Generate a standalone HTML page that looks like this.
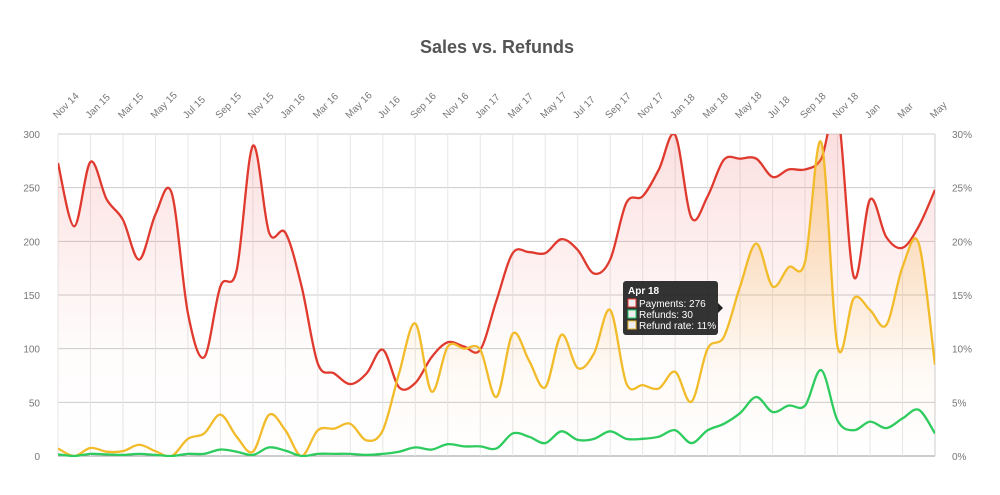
<!DOCTYPE html>
<html><head><meta charset="utf-8"><style>
body{margin:0;background:#fff;width:1000px;height:490px;overflow:hidden;font-family:"Liberation Sans",sans-serif}
</style></head><body>
<svg id="chart" width="1000" height="490">
<defs>
<linearGradient id="gRed" x1="0" y1="0" x2="0" y2="1"><stop offset="0" stop-color="#f06060" stop-opacity="0.22"/><stop offset="0.7" stop-color="#f06060" stop-opacity="0.02"/><stop offset="1" stop-color="#f06060" stop-opacity="0"/></linearGradient>
<linearGradient id="gYel" x1="0" y1="0" x2="0" y2="1"><stop offset="0" stop-color="#f5a623" stop-opacity="0.35"/><stop offset="0.75" stop-color="#f5a623" stop-opacity="0.03"/><stop offset="1" stop-color="#f5a623" stop-opacity="0"/></linearGradient>
<clipPath id="clip"><rect x="58" y="134" width="877" height="323"/></clipPath>
</defs>
<text x="497" y="53" text-anchor="middle" font-size="18" font-weight="bold" fill="#555">Sales vs. Refunds</text>
<g id="grid"></g><g id="series" clip-path="url(#clip)"></g><g id="labels"></g>
<g id="tooltip">
<rect x="623" y="281" width="95" height="54" rx="3" fill="#222" opacity="0.92"/>
<polygon points="718,303 723,308 718,313" fill="#222"/>
<text x="628" y="294" font-size="10" font-weight="bold" fill="#fff">Apr 18</text>
<rect x="628" y="299" width="8" height="8" fill="#eee" stroke="#e33" stroke-width="1"/>
<text x="639" y="307" font-size="10" fill="#fff">Payments: 276</text>
<rect x="628" y="310" width="8" height="8" fill="#eee" stroke="#2c6" stroke-width="1"/>
<text x="639" y="318" font-size="10" fill="#fff">Refunds: 30</text>
<rect x="628" y="321" width="8" height="8" fill="#eee" stroke="#eb3" stroke-width="1"/>
<text x="639" y="329" font-size="10" fill="#fff">Refund rate: 11%</text>
</g>
</svg>
<script>
const xLabels=["Nov 14","Jan 15","Mar 15","May 15","Jul 15","Sep 15","Nov 15","Jan 16","Mar 16","May 16","Jul 16","Sep 16","Nov 16","Jan 17","Mar 17","May 17","Jul 17","Sep 17","Nov 17","Jan 18","Mar 18","May 18","Jul 18","Sep 18","Nov 18","Jan","Mar","May"];
const leftTicks=[0,50,100,150,200,250,300];
const rightTicks=["0%","5%","10%","15%","20%","25%","30%"];
const payments=[273,214,274,239,220,183,225,245,133,92,158,173,289,208,208,158,86,77,67,77,99,64,68,92,106,102,99,145,189,190,189,202,192,170,183,236,242,267,299,222,242,276,277,277,260,267,267,277,320,167,239,204,194,214,248];
const refunds=[1.5,0,2,1.5,1,2,1,0,2,2,6,4,1,8,5,0,2,2,2,1,2,4,8,6,11,9,9,7,21,18,12,23,15,16,23,16,16,18,24,12,24,30,40,55,41,47,47,80,33,24,32,26,35,43,21];
const refundRate=[0.7,0,0.75,0.4,0.45,1.05,0.45,0,1.6,2.1,3.85,1.8,0.4,3.85,2.4,0,2.4,2.55,3.0,1.45,2.4,7.7,12.35,6.0,10.2,10.0,9.9,5.5,11.4,8.9,6.4,11.3,8.2,9.55,13.6,6.75,6.6,6.3,7.85,5.05,10.0,11.1,15.8,19.8,15.8,17.6,18.1,29.2,10.2,14.7,13.6,12.2,17.6,19.8,8.5];
const X0=58,X1=935,Y0=456,Y1=134;
const xs=i=>X0+(X1-X0)*i/54;
const yL=v=>Y0-(Y0-Y1)*v/300;
const yR=v=>Y0-(Y0-Y1)*v/30;
const NS="http://www.w3.org/2000/svg";
function mk(t,a,p){const e=document.createElementNS(NS,t);for(const k in a)e.setAttribute(k,a[k]);p.appendChild(e);return e;}
const grid=document.getElementById('grid'),lab=document.getElementById('labels'),ser=document.getElementById('series');
leftTicks.forEach((v,i)=>{const y=yL(v);
 const l=mk('line',{x1:X0,x2:X1,y1:y,y2:y,stroke:i==0?'#999':'#ccc','stroke-width':1},grid);
 
 
 const t=mk('text',{x:40,y:y+4,'text-anchor':'end','font-size':10,fill:'#777'},lab);t.textContent=v;
 
 
 const r=mk('text',{x:952,y:y+4,'font-size':10,fill:'#777'},lab);r.textContent=rightTicks[i];
 
 
});
xLabels.forEach((s,i)=>{const x=xs(i*2);
 const l=mk('line',{x1:x,x2:x,y1:Y1,y2:Y0,stroke:'#e6e6e6','stroke-width':1},grid);
 
 
 const tx=x-1,ty=119;
 const t=mk('text',{x:tx,y:ty,'font-size':10,fill:'#777',transform:`rotate(-45 ${tx} ${ty})`},lab);t.textContent=s;
 
 
});
mk('line',{x1:X1,x2:X1,y1:Y1,y2:Y0,stroke:'#ccc'},grid);
function path(vals,yf){const p=vals.map((v,i)=>[xs(i),yf(v)]);let d=`M${p[0][0]},${p[0][1]}`;
 for(let i=0;i<p.length-1;i++){const a=p[Math.max(0,i-1)],b=p[i],c=p[i+1],e=p[Math.min(p.length-1,i+2)];
  d+=`C${b[0]+(c[0]-a[0])/6},${b[1]+(c[1]-a[1])/6} ${c[0]-(e[0]-b[0])/6},${c[1]-(e[1]-b[1])/6} ${c[0]},${c[1]}`;}
 return d;}
function draw(vals,yf,color,fill,name){const d=path(vals,yf);
 if(fill){const f=mk('path',{d:d+`L${X1},${Y0}L${X0},${Y0}Z`,fill:fill},ser);
  
  }
 const l=mk('path',{d:d,fill:'none',stroke:color,'stroke-width':2.3},ser);
 
 }
draw(payments,yL,'#e03a2f','url(#gRed)','payments');
draw(refundRate,yR,'#f2bb2a','url(#gYel)','refund-rate');
draw(refunds,yL,'#2ecc5e',null,'refunds');
</script>
</body></html>
